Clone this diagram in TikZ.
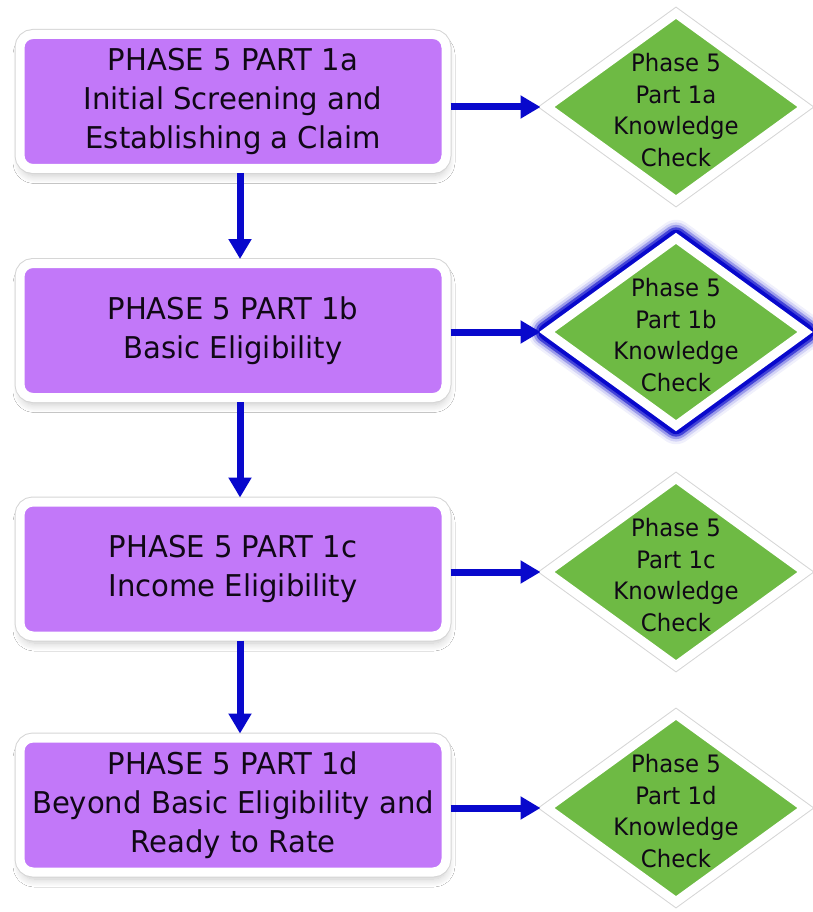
\documentclass[tikz,border=0pt]{standalone}
\usepackage{fontspec}
\setmainfont[FakeStretch=0.97]{DejaVu Sans}
\newfontfamily\kcfont[FakeStretch=0.95]{DejaVu Sans}
\usetikzlibrary{shapes.geometric,arrows.meta,shadows.blur}
\definecolor{boxpurple}{RGB}{194,120,249}
\definecolor{kcgreen}{RGB}{110,186,68}
\definecolor{arrowblue}{RGB}{8,8,204}
\definecolor{edgegray}{RGB}{214,214,214}
\definecolor{txt}{RGB}{16,8,22}
\begin{document}
\begin{tikzpicture}[x=1pt,y=1pt,
  phasebox/.style={rectangle, rounded corners=13pt, minimum width=426pt, minimum height=134pt,
    inner sep=0pt, fill=boxpurple, draw=white, line width=9pt,
    blur shadow={shadow xshift=1pt, shadow yshift=-7pt, shadow blur radius=8pt, shadow blur steps=10, shadow opacity=22},
    preaction={draw=edgegray, line width=11pt},
    align=center, text=txt, font=\fontsize{30}{39}\selectfont},
  kcdiamond/.style={diamond, minimum width=262pt, minimum height=191pt, inner sep=0pt,
    fill=kcgreen, draw=white, line width=9pt,
    preaction={draw=edgegray, line width=11pt}},
  glow/.style={
    preaction={draw=arrowblue, line width=37pt, opacity=0.06, line join=round},
    preaction={draw=arrowblue, line width=32pt, opacity=0.12, line join=round},
    preaction={draw=arrowblue, line width=27pt, opacity=0.28, line join=round},
    preaction={draw=arrowblue, line width=22pt, opacity=0.6, line join=round},
    preaction={draw=arrowblue, line width=17pt, line join=round}},
  kctext/.style={align=center, text=txt, font=\kcfont\fontsize{24}{31.5}\selectfont, inner sep=0pt, yshift=-3pt},
  flow/.style={draw=arrowblue, line width=7pt, -{Triangle[width=22pt,length=20pt]}}
]
\fill[white] (0,0) rectangle (813,-912);
\useasboundingbox (0,0) rectangle (813,-912);

\node[phasebox] (b1) at (233,-101.5) {PHASE 5 PART 1a\\Initial Screening and\\Establishing a Claim};
\node[phasebox] (b2) at (233,-330.5) {PHASE 5 PART 1b\\Basic Eligibility};
\node[phasebox] (b3) at (233,-569) {PHASE 5 PART 1c\\Income Eligibility};
\node[phasebox] (b4) at (233,-805) {PHASE 5 PART 1d\\Beyond Basic Eligibility and\\Ready to Rate};

\node[kcdiamond, label={[kctext]center:{Phase 5\\Part 1a\\Knowledge\\Check}}] (k1) at (676,-107) {};
\node[kcdiamond, glow, label={[kctext]center:{Phase 5\\Part 1b\\Knowledge\\Check}}] (k2) at (676,-332) {};
\node[kcdiamond, label={[kctext]center:{Phase 5\\Part 1c\\Knowledge\\Check}}] (k3) at (676,-572) {};
\node[kcdiamond, label={[kctext]center:{Phase 5\\Part 1d\\Knowledge\\Check}}] (k4) at (676,-808) {};

\draw[flow] ([xshift=7pt]b1.south) -- ([xshift=7pt]b2.north);
\draw[flow] ([xshift=7pt]b2.south) -- ([xshift=7pt]b3.north);
\draw[flow] ([xshift=7pt]b3.south) -- ([xshift=7pt]b4.north);

\draw[flow] (b1.east |- k1.west) -- (k1.west);
\draw[flow] (b2.east |- k2.west) -- (k2.west);
\draw[flow] (b3.east |- k3.west) -- (k3.west);
\draw[flow] (b4.east |- k4.west) -- (k4.west);
\end{tikzpicture}
\end{document}
